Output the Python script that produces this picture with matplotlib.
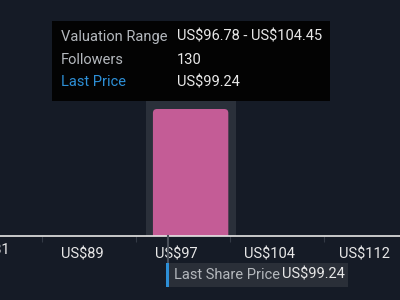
import matplotlib
matplotlib.use("Agg")
import matplotlib.pyplot as plt
from matplotlib.patches import Rectangle, FancyBboxPatch
import matplotlib.transforms as mtransforms

plt.rcParams['font.family'] = ['Roboto', 'DejaVu Sans']
plt.rcParams['text.parse_math'] = False

# data
tick_values = [81.33, 89.0, 96.67, 104.33, 112.0]
tick_labels = ["US$81", "US$89", "US$97", "US$104", "US$112"]
bin_left = 98.05
bin_right = 104.2
bin_height = 127          # drawn height of the single bin
valuation_low = 96.78
valuation_high = 104.45
followers = 130
last_price = 99.24

bg = "#151b26"
pink = "#c45c96"
hover = "#2a303a"
blue = "#2d8fd6"
grey_txt = "#b4b8bd"
white_txt = "#e8e8e8"
fs = 10.5

fig = plt.figure(figsize=(4, 3), dpi=100)
fig.patch.set_facecolor(bg)
ax = fig.add_axes([0, 0, 1, 1])
ax.set_facecolor(bg)

# 12.26 px per dollar, 96.67 sits at x=136
ppu = 12.26
x0 = 96.67 - 136 / ppu

# ticks: small marks under the baseline, labels shifted to the right
ax.set_yticks([])
ax.set_xticks(tick_values)
ax.set_xticklabels(tick_labels)
ax.set_xlim(x0, x0 + 400 / ppu)
ax.set_ylim(-64, 236)
for s in ax.spines.values():
    s.set_visible(False)
ax.spines['bottom'].set_position(('data', 0))
ax.tick_params(axis="x", direction="out", length=4, width=0.8, color="#333a45",
               pad=4, labelsize=fs, labelcolor=white_txt)
offset = mtransforms.ScaledTranslation(40 / 100, 0, fig.dpi_scale_trans)
for lab in ax.get_xticklabels():
    lab.set_transform(lab.get_transform() + offset)
# first label's tick sits left of the view, draw it by hand so its tail shows
t0 = ax.text(tick_values[0], -7, tick_labels[0], color=white_txt, fontsize=fs,
             ha="center", va="top", clip_on=False)
t0.set_transform(ax.transData + offset)

# hover highlight behind bar
pad = 0.6
ax.add_patch(Rectangle((bin_left - pad, 0), bin_right - bin_left + 2 * pad, bin_height + 10,
                       facecolor=hover, edgecolor="none", zorder=1))

# bar with rounded top corners
clip = Rectangle((x0, 0), 400 / ppu, 300, transform=ax.transData)
bar = FancyBboxPatch((bin_left, -8), bin_right - bin_left, bin_height + 8,
                     boxstyle="round,pad=0,rounding_size=0.33", mutation_aspect=ppu,
                     facecolor=pink, edgecolor="none", zorder=2)
ax.add_patch(bar)
bar.set_clip_path(clip)

# baseline
ax.axhline(0, color="#e6e6e6", lw=1.2, zorder=3)

# last share price marker
ax.plot([last_price, last_price], [0, -50], color="#4a505a", lw=1.5, zorder=3)
blend = mtransforms.blended_transform_factory(ax.transData, ax.transAxes)
ax.add_patch(Rectangle((last_price, 1 - 287 / 300), 180 / ppu, 24 / 300, transform=blend,
                       facecolor="#2a2f38", edgecolor="none", zorder=4))
ax.add_patch(Rectangle((last_price - 0.1, 1 - 287 / 300), 0.2, 24 / 300, transform=blend,
                       facecolor=blue, edgecolor="none", zorder=5))
ax.text(last_price + 0.55, 1 - 275 / 300, "Last Share Price", transform=blend,
        color=grey_txt, fontsize=fs, va="center", ha="left", zorder=6)
ax.text(last_price + 9.35, 1 - 275 / 300, "US$%.2f" % last_price, transform=blend,
        color=white_txt, fontsize=fs, va="center", ha="left", zorder=6)

# tooltip
ax.add_patch(Rectangle((52 / 400, 1 - 101 / 300), 278 / 400, 80 / 300, transform=ax.transAxes,
                       facecolor="#030303", edgecolor="none", zorder=7))
rows = [("Valuation Range", "US$%.2f - US$%.2f" % (valuation_low, valuation_high), grey_txt),
        ("Followers", str(followers), grey_txt),
        ("Last Price", "US$%.2f" % last_price, blue)]
for i, (k, v, c) in enumerate(rows):
    y = 1 - (36.5 + 23 * i) / 300
    ax.text(61 / 400, y, k, transform=ax.transAxes, color=c, fontsize=fs,
            va="center", ha="left", zorder=8)
    ax.text(177 / 400, y, v, transform=ax.transAxes, color=white_txt, fontsize=fs,
            va="center", ha="left", zorder=8)

fig.savefig("out.png", dpi=100, facecolor=bg)
